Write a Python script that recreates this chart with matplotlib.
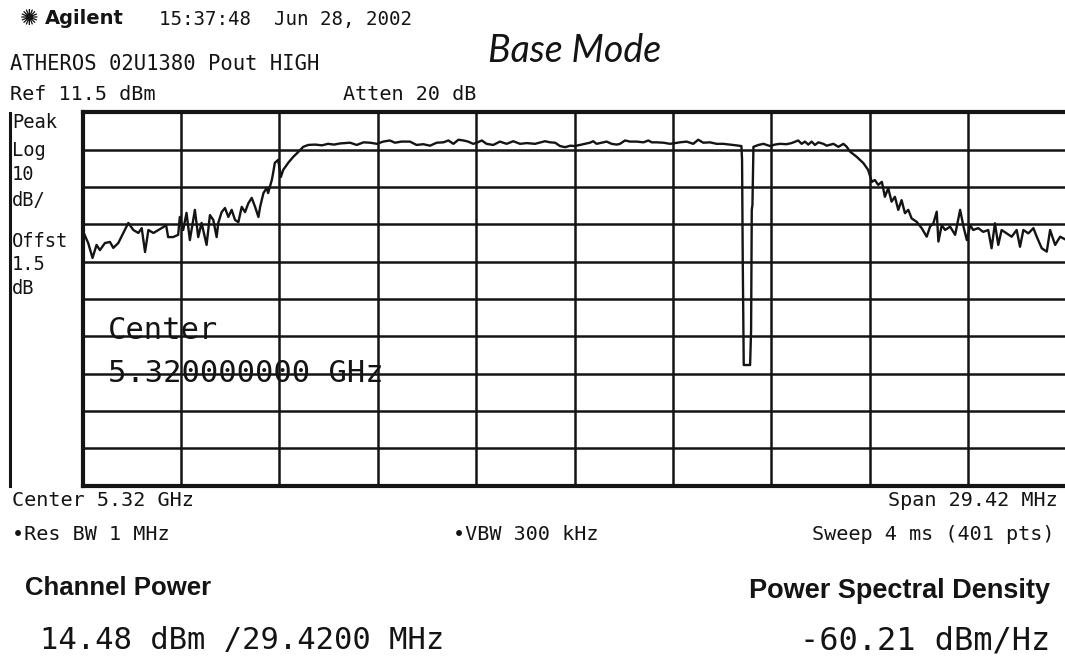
import matplotlib
matplotlib.use("Agg")
import matplotlib.pyplot as plt
import numpy as np
from matplotlib.lines import Line2D

# ---------------- data ----------------
REF_LEVEL_DBM = 11.5
DB_PER_DIV = 10
SPAN_MHZ = 29.42

freq_offset_mhz = [
    -14.71, -14.54, -14.41, -14.29, -14.19, -14.04, -13.89, -13.79, -13.64, -13.49,
    -13.34, -13.19, -13.04, -12.94, -12.84, -12.74, -12.59, -12.44, -12.29, -12.21,
    -12.15, -12.00, -11.85, -11.80, -11.70, -11.60, -11.50, -11.35, -11.25, -11.15,
    -11.00, -10.90, -10.80, -10.70, -10.65, -10.55, -10.45, -10.35, -10.25, -10.15,
    -10.05, -9.95, -9.85, -9.75, -9.65, -9.55, -9.45, -9.40, -9.30, -9.20,
    -9.16, -9.05, -9.01, -8.96, -8.86, -8.78, -8.71, -8.56, -8.41, -8.26,
    -8.11, -7.96, -7.76, -7.55, -7.37, -7.19, -7.01, -6.71, -6.51, -6.31,
    -6.11, -5.91, -5.72, -5.52, -5.37, -5.17, -4.92, -4.72, -4.52, -4.32,
    -4.12, -3.92, -3.77, -3.62, -3.47, -3.32, -3.18, -3.03, -2.92, -2.77,
    -2.63, -2.43, -2.23, -2.03, -1.83, -1.63, -1.43, -1.18, -0.88, -0.73,
    -0.58, -0.43, -0.28, -0.13, 0.01, 0.16, 0.31, 0.46, 0.56, 0.66,
    0.81, 0.96, 1.11, 1.26, 1.36, 1.51, 1.66, 1.86, 2.06, 2.21,
    2.31, 2.46, 2.66, 2.86, 3.00, 3.15, 3.35, 3.55, 3.70, 3.85,
    4.05, 4.25, 4.45, 4.65, 4.83, 4.99, 5.01, 5.03, 5.06, 5.25,
    5.28, 5.30, 5.32, 5.35, 5.50, 5.65, 5.85, 5.99, 6.14, 6.34,
    6.49, 6.69, 6.79, 6.89, 6.99, 7.09, 7.19, 7.29, 7.44, 7.54,
    7.74, 7.89, 8.04, 8.14, 8.24, 8.44, 8.64, 8.78, 8.89, 8.98,
    9.08, 9.19, 9.28, 9.38, 9.48, 9.58, 9.68, 9.78, 9.88, 9.98,
    10.08, 10.23, 10.38, 10.53, 10.63, 10.73, 10.83, 10.88, 10.98, 11.08,
    11.23, 11.38, 11.53, 11.63, 11.73, 11.83, 11.92, 12.07, 12.22, 12.37,
    12.47, 12.57, 12.67, 12.77, 12.92, 13.07, 13.22, 13.32, 13.42, 13.57,
    13.72, 13.82, 13.97, 14.12, 14.22, 14.37, 14.52, 14.71,
]

level_dbm = [
    -20.0, -23.5, -27.5, -24.0, -25.4, -23.5, -23.2, -24.8, -23.5, -20.8,
    -18.1, -20.0, -20.8, -19.5, -25.9, -20.0, -20.8, -20.0, -19.2, -18.7,
    -21.9, -21.9, -21.3, -16.5, -20.0, -15.4, -22.7, -14.6, -21.9, -18.1,
    -24.0, -16.0, -17.3, -21.9, -18.1, -15.2, -14.1, -16.5, -14.6, -17.3,
    -17.9, -13.8, -15.2, -12.8, -11.4, -13.8, -16.5, -13.8, -10.1, -8.7,
    -10.1, -6.6, -4.7, -2.0, -1.2, -5.8, -3.9, -2.0, -0.4, 0.9,
    2.3, 2.8, 2.9, 2.7, 3.1, 2.9, 3.2, 3.4, 2.8, 3.5,
    3.4, 3.1, 3.7, 4.0, 3.4, 3.7, 3.7, 2.8, 3.0, 2.6,
    3.4, 3.5, 4.0, 3.1, 4.2, 4.0, 3.7, 3.1, 3.4, 4.0,
    3.1, 2.8, 3.7, 3.1, 3.8, 3.1, 3.3, 3.1, 3.8, 3.5,
    3.4, 2.5, 2.2, 2.6, 2.5, 2.8, 3.1, 3.4, 3.8, 3.1,
    3.4, 3.7, 3.1, 2.9, 3.1, 4.0, 3.7, 3.7, 3.5, 4.0,
    3.5, 3.5, 3.4, 3.1, 3.3, 3.5, 3.7, 3.1, 4.2, 3.4,
    3.5, 3.1, 3.1, 2.9, 2.7, 2.5, -1.2, -28.0, -56.2, -56.2,
    -46.8, -14.6, -13.3, 2.3, 2.8, 3.1, 2.5, 2.9, 3.1, 3.0,
    3.3, 4.0, 3.1, 3.7, 2.9, 3.7, 2.8, 3.5, 3.1, 2.6,
    3.1, 2.3, 3.1, 2.3, 1.0, -0.4, -2.1, -3.9, -7.1, -6.6,
    -7.9, -7.1, -11.1, -8.8, -12.4, -11.1, -14.6, -12.0, -15.5, -14.6,
    -16.9, -17.8, -19.5, -21.8, -19.1, -18.2, -15.1, -23.1, -18.7, -20.0,
    -19.1, -21.3, -14.6, -19.1, -22.7, -18.7, -20.0, -19.5, -20.5, -20.0,
    -24.9, -18.2, -24.0, -20.0, -20.9, -21.8, -20.0, -24.5, -20.0, -20.9,
    -19.5, -21.8, -24.9, -25.8, -20.0, -24.0, -21.8, -22.7,
]

left_scale_labels = ["Peak", "Log", "10", "dB/", "Offst", "1.5", "dB"]

# ---------------- figure ----------------
W, H = 1065, 665
fig = plt.figure(figsize=(W / 100, H / 100), dpi=100)
fig.patch.set_facecolor("white")

def fx(x):
    return x / W

def fy(y):
    return 1 - y / H

INK = "#141414"
MONO = "DejaVu Sans Mono"

ax = fig.add_axes([fx(82.5), fy(485.5), 984 / W, 373 / H])
ax.set_xlim(-SPAN_MHZ / 2, SPAN_MHZ / 2)
ax.set_ylim(REF_LEVEL_DBM - 10 * DB_PER_DIV, REF_LEVEL_DBM)
ax.set_xticks(np.linspace(-SPAN_MHZ / 2, SPAN_MHZ / 2, 11))
ax.set_yticks(np.linspace(REF_LEVEL_DBM - 10 * DB_PER_DIV, REF_LEVEL_DBM, 11))
ax.tick_params(length=0, labelbottom=False, labelleft=False)
ax.grid(True, color=INK, lw=1.8)
ax.set_axisbelow(True)
for name, sp in ax.spines.items():
    sp.set_color(INK)
    sp.set_linewidth(3.0 if name != "right" else 1.8)

ax.plot(freq_offset_mhz, level_dbm, color=INK, lw=1.7, zorder=4,
        solid_joinstyle="round", clip_on=False)

ax.text(0.026, 0.415, "Center", transform=ax.transAxes, fontsize=22,
        family=MONO, color=INK, va="center", ha="left", zorder=5)
ax.text(0.026, 0.300, "5.320000000 GHz", transform=ax.transAxes, fontsize=22,
        family=MONO, color=INK, va="center", ha="left", zorder=5)

# left bracket line
fig.add_artist(Line2D([fx(9.5), fx(9.5)], [fy(113), fy(486)], color=INK, lw=2.2))

# header
fig.text(fx(20), fy(19), "\u273a", fontsize=16, color=INK, va="center", ha="left",
         family="DejaVu Sans")
fig.text(fx(45), fy(19), "Agilent", fontsize=14, weight="bold", color=INK,
         va="center", ha="left", family="DejaVu Sans")
fig.text(fx(159), fy(19), "15:37:48  Jun 28, 2002", fontsize=13.8, family=MONO,
         color=INK, va="center", ha="left")
fig.text(fx(10), fy(64), "ATHEROS 02U1380 Pout HIGH", fontsize=14.8, family=MONO,
         color=INK, va="center", ha="left")
fig.text(fx(488), fy(51), "Base Mode", fontsize=27, family="Lato", style="italic",
         weight="normal", color=INK, va="center", ha="left")
fig.text(fx(10), fy(95), "Ref 11.5 dBm", fontsize=14.5, family=MONO, color=INK,
         va="center", ha="left")
fig.text(fx(343), fy(95), "Atten 20 dB", fontsize=14.5, family=MONO, color=INK,
         va="center", ha="left")

label_y = [123, 150, 175, 200, 241, 265, 289]
for lab, yy in zip(left_scale_labels, label_y):
    fig.text(fx(12), fy(yy), lab, fontsize=13.5, family=MONO, color=INK,
             va="center", ha="left")

# footer
fig.text(fx(12), fy(500), "Center 5.32 GHz", fontsize=14.5, family=MONO, color=INK,
         va="center", ha="left")
fig.text(fx(1058), fy(500), "Span 29.42 MHz", fontsize=14.5, family=MONO, color=INK,
         va="center", ha="right")
fig.text(fx(12), fy(535), "\u2022Res BW 1 MHz", fontsize=14.5, family=MONO, color=INK,
         va="center", ha="left")
fig.text(fx(453), fy(535), "\u2022VBW 300 kHz", fontsize=14.5, family=MONO, color=INK,
         va="center", ha="left")
fig.text(fx(1055), fy(535), "Sweep 4 ms (401 pts)", fontsize=14.5, family=MONO,
         color=INK, va="center", ha="right")

fig.text(fx(25), fy(588), "Channel Power", fontsize=18.5, weight="bold",
         family="Liberation Sans", color=INK, va="center", ha="left")
fig.text(fx(1050), fy(591), "Power Spectral Density", fontsize=19.5, weight="bold",
         family="Liberation Sans", color=INK, va="center", ha="right")
fig.text(fx(40), fy(640), "14.48 dBm /29.4200 MHz", fontsize=22, family=MONO,
         color=INK, va="center", ha="left")
fig.text(fx(1050), fy(641), "-60.21 dBm/Hz", fontsize=23, family=MONO,
         color=INK, va="center", ha="right")

fig.savefig("out.png", dpi=100, facecolor="white")
